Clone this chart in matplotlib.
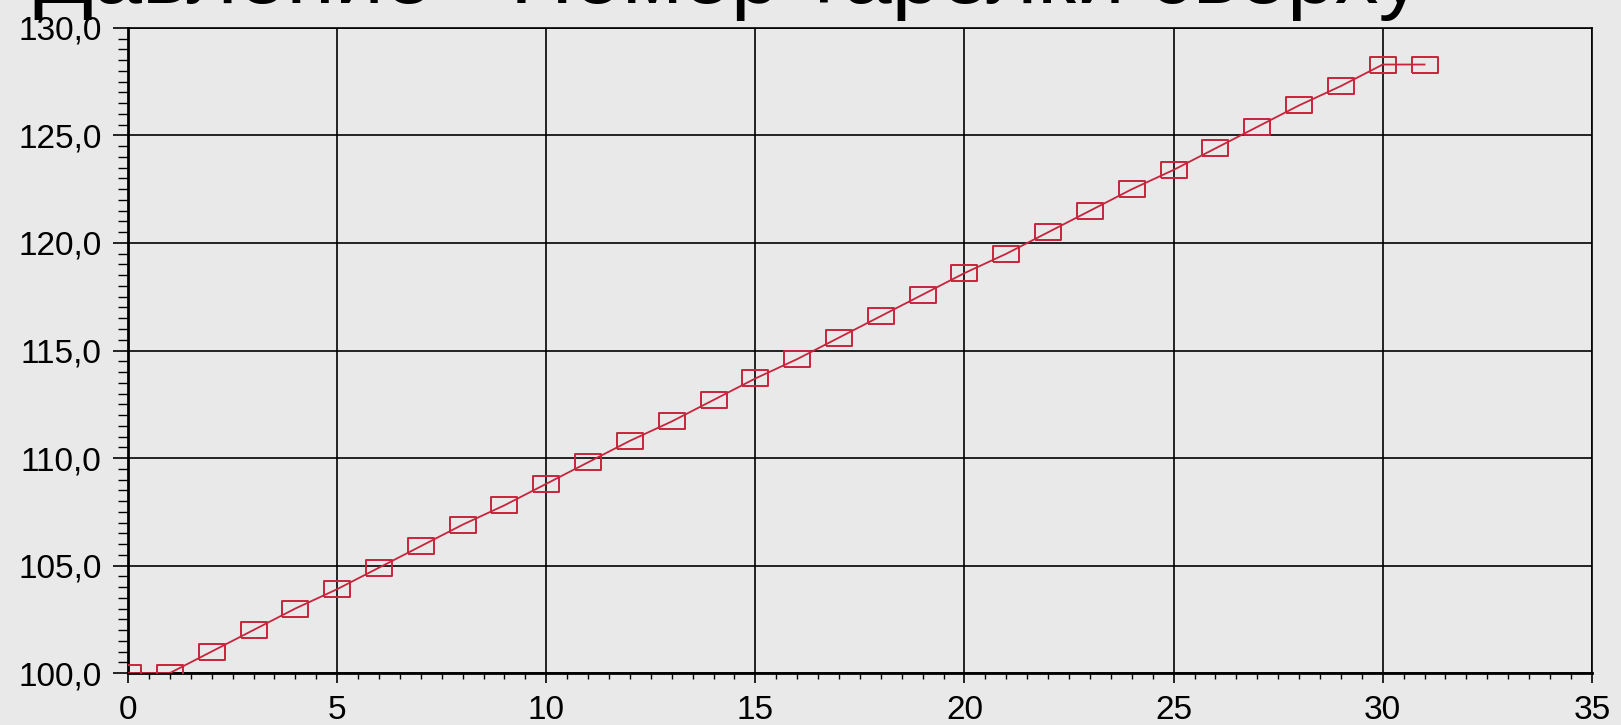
#!/usr/bin/env python3
"""Pressure vs. tray number (counted from the top)."""
from __future__ import annotations

import matplotlib

matplotlib.use("Agg")
import matplotlib.pyplot as plt
from matplotlib.ticker import FuncFormatter, MultipleLocator

TITLE = "Давление - Номер тарелки сверху"

tray = list(range(32))
pressure = [
    100.0, 100.0, 101.0, 102.0, 103.0, 103.9, 104.9, 105.9, 106.9, 107.8,
    108.8, 109.8, 110.8, 111.7, 112.7, 113.7, 114.6, 115.6, 116.6, 117.6,
    118.6, 119.5, 120.5, 121.5, 122.5, 123.4, 124.4, 125.4, 126.4, 127.3,
    128.3, 128.3,
]

BG = "#e9e9e9"
LINE_COLOR = "#c8243c"
# wide open rectangle marker
RECT = [(-1.0, -0.58), (1.0, -0.58), (1.0, 0.58), (-1.0, 0.58), (-1.0, -0.58)]


def main() -> None:
    plt.rcParams["font.family"] = ["Liberation Sans", "DejaVu Sans"]

    fig = plt.figure(figsize=(16.21, 7.25), dpi=100, facecolor=BG)
    ax = fig.add_axes([0.079, 0.0717, 0.903, 0.8897], facecolor=BG)

    ax.plot(tray, pressure, color=LINE_COLOR, linewidth=1.3, marker=RECT,
            markersize=19, markerfacecolor="none", markeredgecolor=LINE_COLOR,
            markeredgewidth=1.4, zorder=3)

    ax.set_xlim(0, 35)
    ax.set_ylim(100, 130)
    ax.xaxis.set_major_locator(MultipleLocator(5))
    ax.xaxis.set_minor_locator(MultipleLocator(0.5))
    ax.yaxis.set_major_locator(MultipleLocator(5))
    ax.yaxis.set_minor_locator(MultipleLocator(0.5))
    ax.yaxis.set_major_formatter(FuncFormatter(lambda v, _: f"{v:.1f}".replace(".", ",")))

    ax.grid(True, which="major", color="black", linewidth=1.2)
    ax.set_axisbelow(True)

    ax.tick_params(axis="x", which="major", direction="out", length=7, width=1.2,
                   labelsize=24, pad=9, colors="black")
    ax.tick_params(axis="x", which="minor", direction="out", length=4, width=1.0)
    ax.tick_params(axis="y", which="major", direction="out", length=11, width=1.2,
                   labelsize=24, pad=8, colors="black")
    ax.tick_params(axis="y", which="minor", direction="out", length=7, width=1.0)

    for side in ("top", "right"):
        ax.spines[side].set_linewidth(1.2)
    for side in ("bottom", "left"):
        ax.spines[side].set_linewidth(2.0)

    # title sits mostly above the canvas, as in the original screenshot
    fig.text(0.021, 1 - 3 / 725, TITLE, fontsize=63, ha="left", va="baseline",
             color="black")

    fig.savefig("out.png", dpi=100, facecolor=BG)
    plt.close(fig)


if __name__ == "__main__":
    main()
